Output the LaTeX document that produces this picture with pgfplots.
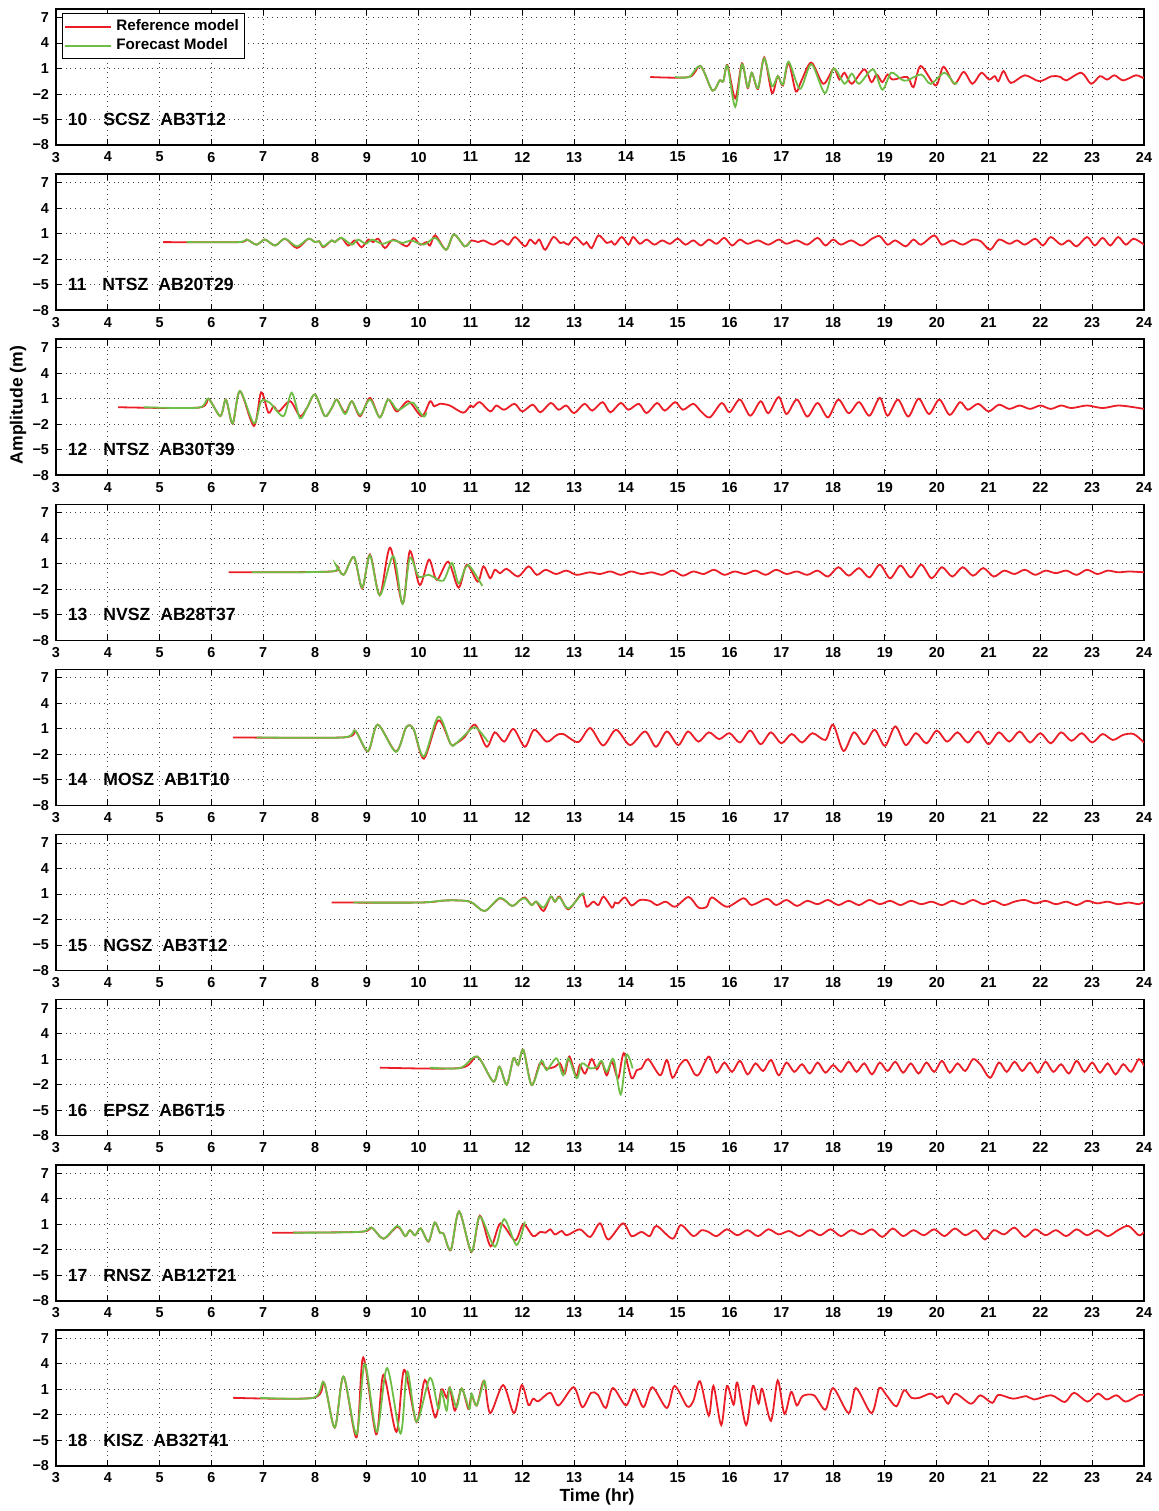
\documentclass[border=0pt]{standalone}
\usepackage{fontspec}
\setmainfont{Liberation Sans}
\usepackage{pgfplots}
\pgfplotsset{compat=1.18}
\definecolor{refred}{RGB}{235,30,40}
\definecolor{fcgreen}{RGB}{110,190,70}
\pgfplotsset{
 panel/.style={
  width=544pt, height=68pt, scale only axis,
  xmin=3, xmax=24, ymin=-8, ymax=8,
  xtick={3,...,24}, ytick={-8,-5,-2,1,4,7},
  yticklabels={−8,−5,−2,1,4,7},
  grid=major, major grid style={dotted, black!75, line width=0.45pt},
  tick style={black, line width=0.5pt}, major tick length=3pt,
  axis line style={line width=0.8pt},
  tick label style={font=\fontsize{7.2}{8}\selectfont\bfseries},
  /pgf/number format/assume math mode=true,
  anchor=north west, clip mode=individual,
 },
 rl/.style={refred, line width=0.9pt, smooth, mark=none},
 gl/.style={fcgreen, line width=0.9pt, smooth, mark=none},
}
\newcommand{\plabel}[3]{\node[anchor=west, font=\fontsize{8.8}{10}\selectfont\bfseries, inner sep=0pt] at (axis cs:3.22,-5) {#1\hspace{8pt}#2\hspace{5pt}#3};}
\begin{document}
\begin{tikzpicture}
\path[use as bounding box] (-28pt,4.5pt) rectangle (551.5pt,-751pt);
% ---------------- 10 SCSZ
\begin{axis}[panel, at={(0pt,0pt)},
 legend style={at={(0.0055,0.97)}, anchor=north west, draw=black, line width=0.6pt, font=\fontsize{7.6}{8.5}\selectfont\bfseries, inner sep=1pt, row sep=-1.5pt, cells={anchor=west}},
 legend image code/.code={\draw[#1] (0pt,0pt) -- (23pt,0pt);}]
\addplot[rl] coordinates {(14.47,0) (15.22,0) (15.44,1.3) (15.67,-1.6) (15.81,-0.4) (15.88,-0.5) (15.96,1.4) (16.11,-2.5) (16.24,1.6) (16.35,-1.3) (16.43,0.5) (16.55,-1.4) (16.67,2.3) (16.82,-1.9) (16.93,0.1) (17.03,-1.0) (17.14,1.7) (17.28,-1.7) (17.39,-0.4) (17.58,1.7) (17.81,-0.8) (18.01,1.0) (18.12,-0.3) (18.22,0.5) (18.36,-0.8) (18.60,0.9) (18.74,-0.6) (18.84,0.3) (18.95,-0.6) (19.05,0.3) (19.15,-0.3) (19.43,0.0) (19.55,-1.2) (19.69,1.3) (19.98,-1.0) (20.13,1.2) (20.34,-0.8) (20.52,0.6) (20.69,-0.8) (20.86,0.5) (21.01,-0.3) (21.12,0.1) (21.19,-0.5) (21.29,0.7) (21.43,-0.7) (21.70,0.2) (21.98,-0.5) (22.22,0.1) (22.39,0.0) (22.50,-0.4) (22.79,0.5) (22.98,-0.8) (23.15,0.1) (23.29,-0.3) (23.43,0.2) (23.60,-0.4) (23.84,0.2) (23.98,-0.1) (24,0.0)};
\addplot[gl] coordinates {(14.95,0) (15.22,0) (15.44,1.3) (15.67,-1.6) (15.81,-0.4) (15.88,-0.5) (15.96,1.3) (16.11,-3.5) (16.24,1.5) (16.35,-1.2) (16.43,0.5) (16.55,-1.3) (16.67,2.2) (16.82,-1.1) (16.93,0.1) (17.03,-0.9) (17.14,1.8) (17.36,-1.4) (17.58,1.5) (17.84,-1.9) (18.01,1.0) (18.22,-0.8) (18.36,0.4) (18.50,-0.8) (18.77,0.9) (18.95,-1.5) (19.12,0.5) (19.32,-0.3) (19.43,-0.4) (19.70,0.3) (19.88,-0.8) (20.15,0.5) (20.34,-0.8) (20.39,-0.6)};
\legend{Reference model, Forecast Model}
\plabel{10}{SCSZ}{AB3T12}
\end{axis}
% ---------------- 11 NTSZ
\begin{axis}[panel, at={(0pt,-82.55pt)}]
\addplot[rl] coordinates {(5.07,0) (6.52,0) (6.68,0.3) (6.87,-0.3) (7.03,0.3) (7.23,-0.4) (7.42,0.4) (7.65,-0.7) (7.87,0.4) (8.0,0) (8.08,0.1) (8.16,-0.6) (8.32,0.2) (8.38,0.0) (8.51,0.5) (8.64,-0.4) (8.77,0.2) (8.90,-0.6) (9.03,0.3) (9.12,0.0) (9.22,0.4) (9.35,-0.7) (9.51,0.3) (9.77,-0.5) (9.90,0.5) (10.03,-0.3) (10.15,0.0) (10.22,-0.4) (10.32,0.8) (10.53,-0.9) (10.68,0.9) (10.89,-0.5) (11.02,0.2) (11.15,0.0) (11.25,0.2) (11.44,-0.3) (11.60,0.2) (11.73,-0.3) (11.86,0.6) (12.05,-0.5) (12.15,0.3) (12.25,-0.2) (12.33,0.3) (12.44,-0.9) (12.60,0.6) (12.73,-0.1) (12.80,0.0) (12.89,-0.3) (13.02,0.6) (13.18,-0.3) (13.24,0.0) (13.34,-0.7) (13.47,0.8) (13.63,-0.1) (13.72,0.1) (13.79,-0.3) (13.92,0.6) (14.05,-0.3) (14.14,0.6) (14.27,-0.2) (14.40,0.3) (14.55,-0.3) (14.7,0.2) (14.85,-0.2) (15.0,0.4) (15.15,-0.3) (15.3,0.2) (15.45,-0.4) (15.6,0.3) (15.75,-0.2) (15.9,0.5) (16.05,-0.4) (16.2,0.3) (16.35,-0.2) (16.55,0.2) (16.75,-0.3) (16.95,0.3) (17.1,-0.2) (17.3,0.2) (17.5,-0.3) (17.7,0.5) (17.85,-0.4) (18.0,0.3) (18.15,-0.3) (18.35,0.2) (18.55,-0.4) (18.75,0.4) (18.9,0.7) (19.05,-0.3) (19.2,0.2) (19.4,-0.5) (19.55,0.3) (19.7,-0.3) (19.95,0.8) (20.1,-0.3) (20.3,0.2) (20.5,-0.3) (20.7,0.3) (20.85,0.1) (21.03,-0.9) (21.2,0.3) (21.4,-0.2) (21.55,0.2) (21.7,-0.3) (21.9,0.4) (22.05,-0.4) (22.2,0.6) (22.4,-0.3) (22.55,0.2) (22.7,-0.5) (22.9,0.6) (23.05,-0.4) (23.2,0.5) (23.35,-0.4) (23.5,0.6) (23.65,-0.3) (23.8,0.4) (24,-0.3)};
\addplot[gl] coordinates {(5.52,0) (6.52,0) (6.68,0.3) (6.87,-0.3) (7.03,0.3) (7.23,-0.4) (7.42,0.4) (7.65,-0.5) (7.87,0.4) (8.0,0) (8.08,0.1) (8.16,-0.5) (8.32,0.2) (8.38,0.0) (8.51,0.5) (8.71,-0.3) (8.83,0.3) (8.98,-0.2) (9.1,0.3) (9.3,-0.2) (9.5,0.2) (9.7,-0.1) (9.85,0.2) (10.1,-0.3) (10.32,0.5) (10.53,-0.9) (10.68,0.9) (10.89,-0.5) (11.0,0.1)};
\plabel{11}{NTSZ}{AB20T29}
\end{axis}
% ---------------- 12 NTSZ
\begin{axis}[panel, at={(0pt,-165.1pt)}]
\addplot[rl] coordinates {(4.20,0) (5.75,-0.05) (5.94,1.0) (6.17,-1.05) (6.28,0.9) (6.41,-1.95) (6.55,1.9) (6.82,-2.2) (6.96,1.75) (7.10,-0.65) (7.2,0.1) (7.3,-0.5) (7.52,0.7) (7.71,-1.05) (7.85,0.0) (8.0,1.5) (8.19,-1.05) (8.33,0.0) (8.42,0.9) (8.58,-0.65) (8.71,0.7) (8.87,-1.05) (9.06,1.1) (9.25,-1.2) (9.41,0.9) (9.58,-0.5) (9.80,0.7) (10.06,-1.05) (10.22,0.7) (10.30,0.1) (10.41,0.4) (10.60,0.2) (10.86,-0.65) (11.0,0.2) (11.05,0.0) (11.18,0.6) (11.38,-0.5) (11.5,0.2) (11.65,-0.3) (11.85,0.4) (12.0,-0.5) (12.2,0.3) (12.35,-0.6) (12.55,0.5) (12.7,-0.3) (12.85,0.2) (13.0,-0.7) (13.2,0.4) (13.35,-0.4) (13.55,0.6) (13.7,-0.6) (13.9,0.5) (14.05,-0.3) (14.25,0.4) (14.4,-0.7) (14.6,0.5) (14.75,-0.4) (14.95,0.6) (15.1,-0.3) (15.3,0.4) (15.45,-0.5) (15.62,-1.2) (15.85,0.5) (16.0,-0.6) (16.2,0.9) (16.4,-1.0) (16.6,0.7) (16.75,-0.7) (16.95,1.2) (17.1,-0.8) (17.3,0.9) (17.5,-1.1) (17.7,0.5) (17.9,-1.2) (18.1,0.9) (18.3,-0.7) (18.5,0.6) (18.7,-1.0) (18.9,1.1) (19.05,-1.0) (19.25,0.9) (19.45,-1.1) (19.65,1.0) (19.85,-0.8) (20.05,0.9) (20.25,-0.9) (20.45,0.6) (20.6,-0.3) (20.8,0.4) (21.0,-0.5) (21.2,0.3) (21.4,-0.2) (21.6,0.2) (21.8,-0.2) (22.0,0.2) (22.2,-0.2) (22.4,0.2) (22.6,-0.1) (22.9,0.2) (23.2,-0.1) (23.5,0.2) (23.8,0.0) (24,-0.2)};
\addplot[gl] coordinates {(4.69,0) (5.75,-0.05) (5.94,1.0) (6.17,-1.05) (6.28,0.9) (6.41,-1.9) (6.55,1.9) (6.82,-1.9) (6.96,0.7) (7.13,0.5) (7.39,-1.05) (7.55,1.7) (7.71,-1.3) (7.85,0.0) (8.0,1.5) (8.19,-1.05) (8.33,0.0) (8.42,0.9) (8.58,-0.8) (8.71,0.7) (8.87,-0.9) (9.06,0.9) (9.25,-1.2) (9.41,0.9) (9.58,-0.3) (9.68,-0.1) (9.80,0.4) (9.9,0.5) (10.09,-1.1) (10.15,-0.6)};
\plabel{12}{NTSZ}{AB30T39}
\end{axis}
% ---------------- 13 NVSZ
\begin{axis}[panel, at={(0pt,-247.65pt)}]
\addplot[rl] coordinates {(6.33,0) (8.32,0.1) (8.40,0.9) (8.55,-0.3) (8.75,1.8) (8.91,-1.9) (9.06,2.1) (9.25,-2.7) (9.45,2.9) (9.69,-3.7) (9.83,2.5) (10.02,-1.5) (10.20,1.5) (10.35,-0.9) (10.57,1.25) (10.77,-1.8) (10.93,0.9) (11.14,-1.1) (11.25,0.7) (11.38,-0.7) (11.47,0.3) (11.57,-0.1) (11.70,0.4) (11.92,-0.5) (12.12,0.7) (12.28,-0.3) (12.45,0.3) (12.65,-0.2) (12.85,0.2) (13.05,-0.3) (13.3,0.0) (13.5,-0.2) (13.7,0.1) (13.9,-0.3) (14.1,0.1) (14.3,-0.2) (14.5,0.0) (14.7,-0.3) (14.9,0.2) (15.1,-0.4) (15.3,0.1) (15.5,-0.2) (15.7,0.3) (15.9,-0.3) (16.1,0.1) (16.3,-0.2) (16.5,0.2) (16.7,-0.3) (16.9,0.3) (17.1,-0.2) (17.3,0.1) (17.5,-0.3) (17.7,0.2) (17.9,-0.5) (18.1,0.6) (18.3,-0.4) (18.5,0.5) (18.7,-0.6) (18.9,0.9) (19.1,-0.7) (19.3,0.8) (19.5,-0.6) (19.7,0.9) (19.9,-0.7) (20.1,0.6) (20.3,-0.5) (20.5,0.6) (20.7,-0.4) (20.9,0.5) (21.1,-0.5) (21.3,0.2) (21.5,-0.2) (21.7,0.3) (21.9,-0.3) (22.1,0.2) (22.3,-0.1) (22.5,0.2) (22.7,-0.3) (22.9,0.3) (23.1,-0.2) (23.3,0.2) (23.5,0.0) (23.7,0.1) (24,0.0)};
\addplot[gl] coordinates {(6.78,0) (8.32,0.1) (8.40,0.9) (8.55,-0.3) (8.75,1.8) (8.91,-1.8) (9.06,2.0) (9.25,-2.7) (9.51,1.9) (9.69,-3.7) (9.83,1.7) (10.0,-0.5) (10.2,-0.3) (10.47,-1.0) (10.64,1.1) (10.77,-1.3) (10.9,0.5) (10.99,0.7) (11.23,-1.6)};
\plabel{13}{NVSZ}{AB28T37}
\end{axis}
% ---------------- 14 MOSZ
\begin{axis}[panel, at={(0pt,-330.2pt)}]
\addplot[rl] coordinates {(6.42,0) (8.55,0) (8.77,0.8) (9.02,-1.65) (9.21,1.5) (9.56,-1.65) (9.76,1.2) (9.90,1.0) (10.10,-2.5) (10.38,2.0) (10.62,-0.8) (10.72,-0.7) (10.88,0.0) (11.09,1.5) (11.31,-1.1) (11.47,0.6) (11.65,-0.5) (11.83,1.0) (12.05,-1.1) (12.23,0.9) (12.47,-0.5) (12.66,0.25) (12.79,0.4) (13.08,-0.55) (13.31,1.1) (13.56,-0.95) (13.81,0.9) (14.08,-0.9) (14.37,0.7) (14.58,-1.1) (14.79,0.7) (15.01,-0.9) (15.2,0.7) (15.4,-0.5) (15.6,0.6) (15.8,-0.2) (16.0,0.5) (16.2,-0.6) (16.4,0.8) (16.6,-0.8) (16.8,0.6) (17.0,-0.7) (17.2,0.4) (17.4,-0.6) (17.6,0.5) (17.85,-0.3) (18.0,1.5) (18.2,-1.6) (18.4,0.6) (18.6,-0.8) (18.8,0.9) (19.0,-1.0) (19.2,1.3) (19.4,-0.9) (19.6,0.5) (19.8,-0.7) (20.0,0.8) (20.2,-0.5) (20.4,0.6) (20.6,-0.6) (20.8,0.7) (21.0,-0.8) (21.2,0.6) (21.4,-0.5) (21.6,0.7) (21.8,-0.6) (22.0,0.5) (22.2,-0.7) (22.4,0.6) (22.6,-0.4) (22.8,0.5) (23.0,-0.6) (23.2,0.4) (23.4,-0.3) (23.6,0.3) (23.8,0.4) (24,-0.6)};
\addplot[gl] coordinates {(6.87,0) (8.55,0) (8.77,0.8) (9.02,-1.6) (9.21,1.5) (9.56,-1.7) (9.76,1.2) (9.90,1.0) (10.10,-2.25) (10.38,2.45) (10.62,-0.8) (10.72,-0.7) (10.88,0.2) (11.09,1.2) (11.34,-0.55)};
\plabel{14}{MOSZ}{AB1T10}
\end{axis}
% ---------------- 15 NGSZ
\begin{axis}[panel, at={(0pt,-412.75pt)}]
\addplot[rl] coordinates {(8.32,0) (10.03,0.0) (10.54,0.25) (10.99,0.1) (11.27,-1.0) (11.57,0.5) (11.80,-0.4) (11.94,0.2) (12.05,0.6) (12.18,-0.3) (12.27,0.1) (12.41,-1.0) (12.55,0.7) (12.63,0.1) (12.72,0.7) (12.89,-0.8) (13.15,1.0) (13.24,-0.5) (13.37,0.1) (13.47,-0.3) (13.57,0.7) (13.73,-0.6) (13.79,0.0) (13.85,-0.1) (13.98,0.6) (14.11,-0.35) (14.27,0.3) (14.46,0.2) (14.6,-0.3) (14.77,0.1) (14.95,-0.5) (15.21,0.65) (15.40,-0.6) (15.56,-0.5) (15.66,0.6) (15.95,-0.5) (16.27,0.5) (16.43,-0.3) (16.72,0.45) (16.9,-0.3) (17.1,0.3) (17.3,-0.4) (17.5,0.2) (17.7,-0.2) (17.9,0.3) (18.1,-0.3) (18.3,0.2) (18.5,-0.3) (18.7,0.3) (18.9,-0.2) (19.1,0.2) (19.3,-0.3) (19.5,0.2) (19.7,-0.2) (19.9,0.1) (20.1,-0.3) (20.3,0.2) (20.5,-0.2) (20.7,0.3) (20.9,-0.2) (21.1,0.2) (21.3,-0.3) (21.5,0.1) (21.7,0.3) (21.9,-0.1) (22.1,0.2) (22.3,-0.2) (22.5,0.1) (22.7,-0.3) (22.9,0.2) (23.1,-0.1) (23.3,0.1) (23.5,-0.2) (23.7,0.0) (23.9,-0.2) (24,0.1)};
\addplot[gl] coordinates {(8.74,0) (10.03,0.0) (10.54,0.25) (10.99,0.1) (11.27,-1.0) (11.57,0.55) (11.80,-0.4) (11.94,0.2) (12.05,0.5) (12.18,-0.3) (12.27,0.1) (12.41,-0.6) (12.55,0.7) (12.63,0.1) (12.72,0.6) (12.89,-0.7) (13.15,1.0) (13.18,0.8)};
\plabel{15}{NGSZ}{AB3T12}
\end{axis}
% ---------------- 16 EPSZ
\begin{axis}[panel, at={(0pt,-495.3pt)}]
\addplot[rl] coordinates {(9.25,0) (10.80,-0.05) (11.13,1.3) (11.44,-1.65) (11.56,0.1) (11.70,-2.0) (11.83,1.1) (11.92,0.3) (12.02,2.1) (12.18,-2.05) (12.34,0.5) (12.47,-0.1) (12.63,0.1) (12.73,0.5) (12.82,-0.7) (12.91,1.3) (13.04,-1.05) (13.11,0.3) (13.21,-0.7) (13.34,1.0) (13.44,-0.2) (13.53,0.7) (13.63,-0.9) (13.73,0.7) (13.85,-1.25) (13.96,1.7) (14.11,-1.25) (14.21,-0.3) (14.30,-0.1) (14.43,1.0) (14.66,-0.9) (14.79,0.9) (14.90,-1.2) (15.04,0.3) (15.17,0.9) (15.33,-0.8) (15.42,-0.7) (15.6,1.3) (15.75,-0.6) (15.9,0.6) (16.05,-0.5) (16.2,0.8) (16.35,-0.8) (16.5,0.5) (16.65,-0.4) (16.8,0.9) (16.95,-0.9) (17.1,0.6) (17.25,-0.5) (17.4,0.4) (17.55,-0.7) (17.7,0.6) (17.85,-0.6) (18.0,0.3) (18.15,-0.5) (18.3,0.7) (18.45,-0.5) (18.6,0.5) (18.75,-0.8) (18.9,0.6) (19.05,-0.4) (19.2,0.7) (19.35,-0.6) (19.5,0.5) (19.65,-0.7) (19.8,0.6) (19.95,-0.5) (20.1,0.8) (20.25,-0.6) (20.4,0.5) (20.55,-0.4) (20.7,1.0) (20.85,0.3) (21.03,-1.2) (21.2,0.6) (21.35,-0.5) (21.5,0.7) (21.65,-0.4) (21.8,0.6) (21.95,-0.6) (22.1,0.7) (22.25,-0.5) (22.4,0.4) (22.55,-0.7) (22.7,0.8) (22.85,-0.5) (23.0,0.6) (23.15,-0.6) (23.3,0.5) (23.45,-0.8) (23.6,0.4) (23.75,-0.5) (23.9,1.0) (24,0.2)};
\addplot[gl] coordinates {(10.22,0) (10.80,-0.05) (11.13,1.3) (11.44,-1.65) (11.56,0.1) (11.70,-2.0) (11.83,1.1) (11.92,0.3) (12.02,2.1) (12.18,-2.05) (12.37,0.8) (12.47,-0.3) (12.66,1.1) (12.79,-0.9) (12.89,1.1) (13.05,-1.25) (13.15,0.5) (13.31,-0.1) (13.44,0.1) (13.53,0.8) (13.63,-0.5) (13.76,1.0) (13.90,-3.15) (14.01,1.5) (14.13,-0.1)};
\plabel{16}{EPSZ}{AB6T15}
\end{axis}
% ---------------- 17 RNSZ
\begin{axis}[panel, at={(0pt,-577.85pt)}]
\addplot[rl] coordinates {(7.17,0) (8.87,0.1) (9.09,0.6) (9.32,-0.7) (9.59,0.7) (9.74,-0.4) (9.83,0.3) (9.93,-0.3) (10.04,0.5) (10.19,-1.05) (10.31,1.2) (10.41,0.0) (10.48,-0.1) (10.62,-2.05) (10.78,2.5) (11.02,-2.25) (11.18,2.0) (11.39,-1.6) (11.58,1.1) (11.86,-0.9) (12.02,1.0) (12.21,-0.4) (12.35,0.1) (12.45,0.0) (12.54,0.4) (12.63,-0.2) (12.76,0.2) (12.86,-0.3) (13.11,0.4) (13.31,-0.5) (13.50,1.1) (13.66,-0.8) (13.94,1.1) (14.11,-0.4) (14.30,0.1) (14.46,-0.4) (14.59,0.8) (14.90,-0.7) (15.06,0.9) (15.30,-0.4) (15.46,0.3) (15.59,0.1) (15.75,-0.4) (15.95,0.4) (16.15,-0.3) (16.35,0.3) (16.55,-0.4) (16.75,0.4) (16.95,-0.2) (17.15,0.2) (17.35,-0.4) (17.55,0.3) (17.75,-0.3) (17.95,0.4) (18.15,-0.4) (18.35,0.3) (18.55,-0.2) (18.75,0.4) (18.95,-0.5) (19.15,0.5) (19.35,-0.4) (19.55,0.3) (19.75,-0.3) (19.95,0.4) (20.15,-0.4) (20.35,0.5) (20.55,-0.3) (20.75,0.3) (20.93,-0.8) (21.1,0.3) (21.3,-0.2) (21.5,0.6) (21.7,-0.5) (21.9,0.4) (22.1,-0.3) (22.3,0.3) (22.5,-0.4) (22.7,0.4) (22.9,-0.3) (23.1,0.3) (23.3,-0.4) (23.5,0.3) (23.7,0.8) (23.9,-0.3) (24,0.1)};
\addplot[gl] coordinates {(7.58,0) (8.87,0.1) (9.09,0.6) (9.32,-0.7) (9.59,0.8) (9.74,-0.4) (9.83,0.3) (9.93,-0.3) (10.04,0.5) (10.19,-1.0) (10.31,1.2) (10.41,0.0) (10.48,-0.1) (10.62,-2.0) (10.78,2.5) (11.02,-2.2) (11.18,1.9) (11.47,-1.65) (11.65,1.6) (11.89,-1.45) (12.05,1.3)};
\plabel{17}{RNSZ}{AB12T21}
\end{axis}
% ---------------- 18 KISZ
\begin{axis}[panel, at={(0pt,-660.4pt)}]
\addplot[rl] coordinates {(6.42,0) (7.97,0) (8.17,1.8) (8.38,-3.5) (8.55,2.5) (8.80,-4.65) (8.93,4.75) (9.18,-4.3) (9.32,2.7) (9.57,-4.0) (9.72,3.3) (9.96,-2.85) (10.12,2.1) (10.32,-2.3) (10.44,1.0) (10.54,0.0) (10.60,1.2) (10.70,-1.5) (10.83,1.1) (10.96,-1.3) (11.02,0.3) (11.12,-0.9) (11.26,2.0) (11.38,-1.8) (11.63,1.5) (11.84,-1.8) (11.99,1.5) (12.12,-0.85) (12.21,-0.1) (12.31,-0.4) (12.54,0.6) (12.70,-0.9) (12.99,1.25) (13.16,-1.1) (13.33,0.6) (13.46,0.35) (13.61,-1.2) (13.75,1.15) (14.00,-0.9) (14.16,1.0) (14.34,-1.1) (14.51,1.25) (14.79,-1.2) (14.94,1.4) (15.18,-1.0) (15.30,-0.4) (15.43,1.95) (15.60,-2.1) (15.69,1.4) (15.84,-3.2) (15.95,1.4) (16.08,-0.8) (16.15,1.8) (16.32,-3.2) (16.45,1.4) (16.56,-0.7) (16.63,1.05) (16.80,-2.7) (16.93,2.05) (17.06,-1.9) (17.19,0.7) (17.30,-0.9) (17.41,0.2) (17.63,0.3) (17.85,-1.4) (18.00,1.15) (18.30,-1.8) (18.44,1.15) (18.74,-1.8) (18.89,1.15) (19.03,0.3) (19.22,-1.0) (19.37,0.9) (19.51,0.0) (19.66,0.0) (19.88,0.5) (20.01,0.0) (20.11,0.2) (20.22,-0.7) (20.36,0.5) (20.66,-0.7) (20.84,0.3) (21.07,-0.6) (21.19,0.35) (21.47,-0.1) (21.73,0.2) (21.88,-0.2) (22.21,0.3) (22.47,-0.5) (22.65,0.6) (22.91,-0.45) (23.11,0.5) (23.28,-0.2) (23.47,0.3) (23.65,-0.45) (23.91,0.35) (24,0.3)};
\addplot[gl] coordinates {(6.94,0) (7.97,0) (8.17,1.8) (8.38,-3.5) (8.55,2.5) (8.80,-4.3) (8.96,4.0) (9.19,-4.0) (9.39,3.5) (9.65,-4.2) (9.78,3.1) (9.96,-2.8) (10.22,2.35) (10.38,-1.3) (10.44,0.8) (10.54,-1.5) (10.60,1.2) (10.73,-1.1) (10.83,1.1) (10.98,-1.3) (11.02,0.5) (11.12,-0.9) (11.26,2.0) (11.30,1.0)};
\plabel{18}{KISZ}{AB32T41}
\end{axis}
\node[rotate=90, font=\fontsize{8.8}{10}\selectfont\bfseries] at (-19pt,-198pt) {Amplitude (m)};
\node[font=\fontsize{8.8}{10}\selectfont\bfseries] at (270.5pt,-744pt) {Time (hr)};
\end{tikzpicture}
\end{document}
